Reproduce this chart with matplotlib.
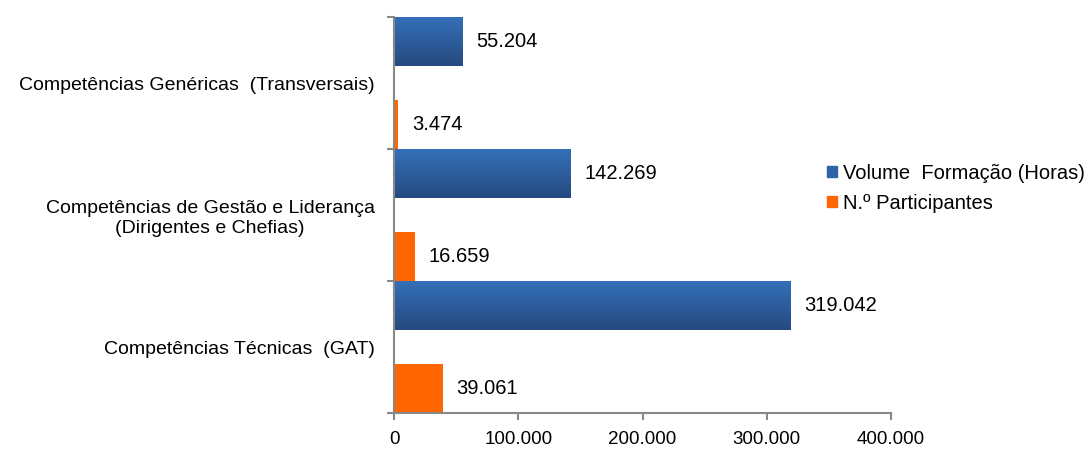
import numpy as np
import matplotlib.pyplot as plt
from matplotlib.ticker import FuncFormatter
from matplotlib.colors import LinearSegmentedColormap

plt.rcParams['font.family'] = ['Liberation Sans', 'DejaVu Sans']

categorias = ['Competências Técnicas  (GAT)',
              'Competências de Gestão e Liderança\n(Dirigentes e Chefias)',
              'Competências Genéricas  (Transversais)']
volume_horas = [319042, 142269, 55204]
participantes = [39061, 16659, 3474]
ticks_x = [0, 100000, 200000, 300000, 400000]

def fmt(v):
    return '{:,}'.format(int(v)).replace(',', '.')

fig = plt.figure(figsize=(10.89, 4.5), dpi=100)
ax = fig.add_axes([0.3618, 0.0822, 0.4564, 0.88])

h = 0.37
pos = np.arange(len(categorias))
blue_y = pos + 1 - h / 2
orange_y = pos + h / 2

# barras azuis com gradiente (estilo excel)
grad = np.linspace(0, 1, 100).reshape(-1, 1)
cmap = LinearSegmentedColormap.from_list('b', ['#254a80', '#3470b8'])
bars_b = ax.barh(blue_y, volume_horas, height=h, color='#2f62a6')
for b in bars_b:
    x0, y0 = b.get_x(), b.get_y()
    ax.imshow(grad, extent=[x0, x0 + b.get_width(), y0, y0 + b.get_height()],
              aspect='auto', cmap=cmap, origin='lower', zorder=2)
ax.barh(orange_y, participantes, height=h, color='#ff6600', zorder=2)

for y, v in zip(blue_y, volume_horas):
    ax.annotate(fmt(v), (v, y), xytext=(14, 0), textcoords='offset pixels',
                va='center', ha='left', fontsize=14.5)
for y, v in zip(orange_y, participantes):
    ax.annotate(fmt(v), (v, y), xytext=(14, 0), textcoords='offset pixels',
                va='center', ha='left', fontsize=14.5)

ax.set_xlim(0, 400000)
ax.set_ylim(0, 3)
ax.set_xticks(ticks_x)
ax.xaxis.set_major_formatter(FuncFormatter(lambda v, p: fmt(v)))
ax.set_yticks([0, 1, 2, 3])
ax.set_yticklabels([])
ax.set_yticks(pos + 0.5, minor=True)
ax.set_yticklabels(categorias, minor=True, fontsize=14, ha='right', ma='center')
ax.tick_params(axis='y', which='minor', length=0, pad=14)
ax.tick_params(axis='y', which='major', length=5, color='#888888', width=1.5)
ax.tick_params(axis='x', length=5, color='#888888', width=1.5, labelsize=13.5, pad=8)

for s in ['top', 'right']:
    ax.spines[s].set_visible(False)
for s in ['left', 'bottom']:
    ax.spines[s].set_color('#888888')
    ax.spines[s].set_linewidth(1.5)

handles = [plt.Rectangle((0, 0), 1, 1, color='#2f62a6'), plt.Rectangle((0, 0), 1, 1, color='#ff6600')]
fig.legend(handles, ['Volume  Formação (Horas)', 'N.º Participantes'], loc='center left',
           bbox_to_anchor=(0.7594, 0.582), frameon=False, fontsize=14.5,
           borderpad=0, borderaxespad=0,
           handlelength=0.5, handleheight=0.5, handletextpad=0.3, labelspacing=0.55)

fig.savefig('out.png', dpi=100)
